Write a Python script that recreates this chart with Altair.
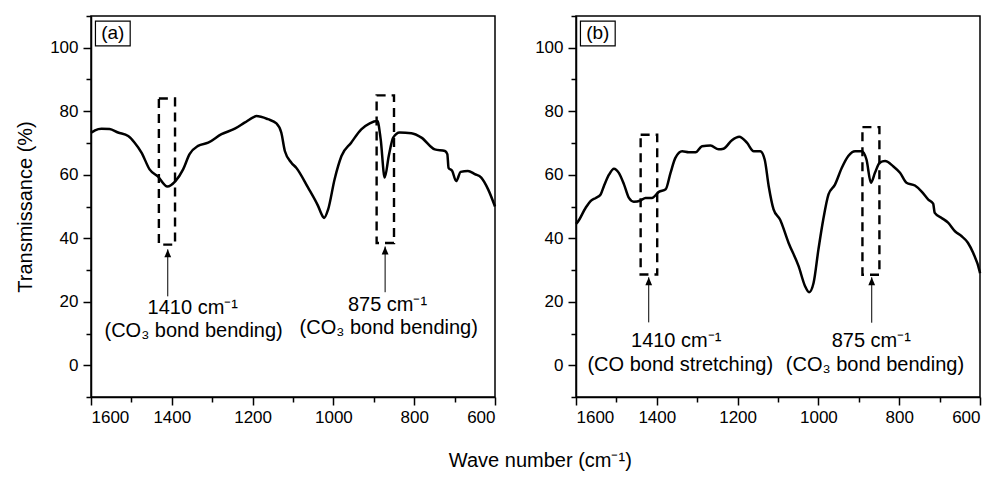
import altair as alt
import pandas as pd

FONT = "Liberation Sans"

# ---------------- data ----------------
a_wave = [1600, 1590, 1574, 1554, 1533, 1508, 1492, 1475, 1455, 1434, 1411, 1391, 1372, 1356,
          1335, 1310, 1277, 1244, 1220, 1195, 1191, 1162, 1141, 1129, 1120, 1104, 1092, 1063,
          1038, 1026, 1023, 1013, 997, 980, 956, 931, 910, 891, 883, 873, 863, 852, 836, 807,
          782, 749, 724, 718, 715, 706, 696, 685, 667, 650, 634, 617, 600]
a_trans = [73.2, 74.0, 74.5, 74.4, 73.3, 72.2, 70.1, 67.0, 61.7, 59.4, 56.3, 58.0, 61.7, 66.5,
           69.1, 70.1, 72.8, 74.5, 76.4, 78.3, 78.5, 77.5, 76.2, 73.3, 67.4, 63.8, 62.2, 56.0,
           50.2, 46.8, 46.4, 49.1, 58.6, 65.9, 70.1, 74.3, 76.2, 76.9, 71.2, 59.1, 65.9, 71.7, 73.3, 73.1,
           71.7, 68.0, 67.5, 66.5, 62.2, 61.2, 58.0, 60.9, 61.2, 60.2, 59.1, 55.4, 50.0]

b_wave = [1600, 1597, 1576, 1564, 1551, 1539, 1531, 1518, 1506, 1494, 1481, 1469, 1457, 1440,
          1428, 1412, 1395, 1378, 1366, 1354, 1337, 1321, 1304, 1288, 1267, 1247, 1235, 1214,
          1196, 1177, 1160, 1144, 1133, 1123, 1111, 1095, 1074, 1049, 1033, 1023, 1012, 1000,
          988, 975, 959, 942, 926, 909, 893, 881, 870, 860, 848, 835, 815, 798, 782, 761, 745,
          728, 716, 712, 695, 679, 662, 646, 630, 617, 601, 600]
b_trans = [44.5, 44.9, 49.6, 51.7, 52.7, 53.8, 56.4, 60.1, 61.9, 60.6, 56.9, 52.7, 51.5, 51.9,
           52.7, 52.7, 54.6, 55.4, 60.6, 65.3, 67.4, 67.1, 67.1, 69.0, 69.2, 68.0, 68.2, 70.9,
           72.0, 70.1, 67.4, 67.4, 64.8, 56.4, 49.1, 45.9, 38.6, 31.2, 24.9, 23.0, 25.9, 36.4,
           45.9, 53.8, 56.9, 62.2, 65.9, 67.4, 67.4, 64.8, 57.5, 60.6, 63.8, 64.3, 62.7, 60.6,
           57.5, 56.6, 54.8, 52.2, 50.9, 48.0, 46.4, 44.9, 42.2, 40.7, 38.6, 35.4, 29.6, 29.0]

# dashed boxes
a_box_x1 = [1432, 893]
a_box_x2 = [1392, 850]
a_box_y1 = [38.0, 38.5]
a_box_y2 = [84.0, 85.0]
b_box_x1 = [1440, 891]
b_box_x2 = [1399, 849]
b_box_y1 = [28.6, 28.5]
b_box_y2 = [72.6, 75.0]

# arrows
a_arrow_x = [1410, 872]
a_arrow_base = [21.7, 23.0]
a_arrow_tip = [36.5, 37.4]
b_arrow_x = [1420, 868]
b_arrow_base = [13.5, 13.4]
b_arrow_tip = [27.7, 27.7]

# annotation texts
a_line1 = ["1410 cm⁻¹", "875 cm⁻¹"]
a_line1_x = [1348, 866]
a_line1_y = [16.0, 17.0]
a_line2 = ["(CO₃ bond bending)", "(CO₃ bond bending)"]
a_line2_x = [1346, 863]
a_line2_y = [8.8, 9.7]
b_line1 = ["1410 cm⁻¹", "875 cm⁻¹"]
b_line1_x = [1352, 869]
b_line1_y = [5.6, 5.6]
b_line2 = ["(CO bond stretching)", "(CO₃ bond bending)"]
b_line2_x = [1342, 860]
b_line2_y = [-1.9, -1.9]

# panel labels
panel_labels = ["(a)", "(b)"]
label_box_x = [1589, 1503]
label_box_y = [100.6, 108.4]

x_major = [1600, 1400, 1200, 1000, 800, 600]
x_minor = [1500, 1300, 1100, 900, 700]
y_major = [0, 20, 40, 60, 80, 100]
y_minor = [-10, 10, 30, 50, 70, 90, 110]

X_SCALE = alt.Scale(domain=[1600, 600], nice=False, zero=False)
Y_SCALE = alt.Scale(domain=[-10, 110], nice=False, zero=False)


def panel(wave, trans, bx1, bx2, by1, by2, ax, abase, atip,
          l1, l1x, l1y, l2, l2x, l2y, label, ytitle):
    x_axis = alt.Axis(values=x_major, title=None, format="d", orient="bottom",
                      tickSize=8, labelPadding=4, labelOverlap=False)
    if ytitle is None:
        y_axis = alt.Axis(values=y_major, title=None, format="d", orient="left",
                          tickSize=8, labelPadding=5, labelOverlap=False)
    else:
        y_axis = alt.Axis(values=y_major, title=ytitle, format="d", orient="left",
                          tickSize=8, labelPadding=5, labelOverlap=False, titlePadding=14)
    x_minor_axis = alt.Axis(values=x_minor, title=None, labels=False, domain=False,
                            orient="bottom", tickSize=5)
    y_minor_axis = alt.Axis(values=y_minor, title=None, labels=False, domain=False,
                            orient="left", tickSize=5)

    df = pd.DataFrame({"w": wave, "t": trans})
    line = alt.Chart(df).mark_line(color="black", strokeWidth=2.5, interpolate="monotone").encode(
        x=alt.X("w:Q", scale=X_SCALE, axis=x_axis),
        y=alt.Y("t:Q", scale=Y_SCALE, axis=y_axis),
        order=alt.Order("w:Q", sort="descending"),
    )

    boxes = alt.Chart(pd.DataFrame({"x1": bx1, "x2": bx2, "y1": by1, "y2": by2})).mark_rect(
        filled=False, stroke="black", strokeWidth=2.4, strokeDash=[9, 6], fillOpacity=0
    ).encode(x=alt.X("x1:Q", scale=X_SCALE, axis=x_minor_axis), x2="x2:Q",
             y=alt.Y("y1:Q", scale=Y_SCALE, axis=y_minor_axis), y2="y2:Q")

    arr_df = pd.DataFrame({"x": ax, "b": abase, "t": atip})
    shafts = alt.Chart(arr_df).mark_rule(color="black", strokeWidth=1).encode(
        x=alt.X("x:Q", scale=X_SCALE, axis=None), y=alt.Y("b:Q", scale=Y_SCALE, axis=None), y2="t:Q")
    heads = alt.Chart(arr_df).mark_point(
        shape="M0,0 L-0.85,2 L0.85,2 Z", filled=True, color="black", opacity=1, size=64
    ).encode(x=alt.X("x:Q", scale=X_SCALE, axis=None), y=alt.Y("t:Q", scale=Y_SCALE, axis=None))

    t1 = alt.Chart(pd.DataFrame({"s": l1, "x": l1x, "y": l1y})).mark_text(
        font=FONT, fontSize=20, color="black", align="center", baseline="alphabetic"
    ).encode(x=alt.X("x:Q", scale=X_SCALE, axis=None), y=alt.Y("y:Q", scale=Y_SCALE, axis=None), text="s:N")
    t2 = alt.Chart(pd.DataFrame({"s": l2, "x": l2x, "y": l2y})).mark_text(
        font=FONT, fontSize=20, color="black", align="center", baseline="alphabetic"
    ).encode(x=alt.X("x:Q", scale=X_SCALE, axis=None), y=alt.Y("y:Q", scale=Y_SCALE, axis=None), text="s:N")

    lab_df = pd.DataFrame({"x1": [label_box_x[0]], "x2": [label_box_x[1]],
                           "y1": [label_box_y[0]], "y2": [label_box_y[1]],
                           "xm": [(label_box_x[0] + label_box_x[1]) / 2],
                           "ym": [(label_box_y[0] + label_box_y[1]) / 2],
                           "s": [label]})
    lab_box = alt.Chart(lab_df).mark_rect(filled=False, stroke="black", strokeWidth=1.2,
                                          fillOpacity=0).encode(
        x=alt.X("x1:Q", scale=X_SCALE, axis=None), x2="x2:Q",
        y=alt.Y("y1:Q", scale=Y_SCALE, axis=None), y2="y2:Q")
    lab_txt = alt.Chart(lab_df).mark_text(font=FONT, fontSize=19, color="black",
                                          align="center", baseline="middle").encode(
        x=alt.X("xm:Q", scale=X_SCALE, axis=None), y=alt.Y("ym:Q", scale=Y_SCALE, axis=None), text="s:N")

    return alt.layer(line, boxes, shafts, heads, t1, t2, lab_box, lab_txt).resolve_axis(
        x="independent", y="independent").properties(width=404, height=381)


pa = panel(a_wave, a_trans, a_box_x1, a_box_x2, a_box_y1, a_box_y2,
           a_arrow_x, a_arrow_base, a_arrow_tip,
           a_line1, a_line1_x, a_line1_y, a_line2, a_line2_x, a_line2_y,
           panel_labels[0], "Transmissance (%)")
pb = panel(b_wave, b_trans, b_box_x1, b_box_x2, b_box_y1, b_box_y2,
           b_arrow_x, b_arrow_base, b_arrow_tip,
           b_line1, b_line1_x, b_line1_y, b_line2, b_line2_x, b_line2_y,
           panel_labels[1], None)

chart = alt.hconcat(pa, pb, spacing=81, bounds="flush").properties(
    title=alt.TitleParams("Wave number (cm⁻¹)", orient="bottom", anchor="middle",
                          font=FONT, fontSize=20, fontWeight="normal", color="black",
                          offset=25, dx=40),
    padding={"left": 6, "top": 6, "right": 5, "bottom": 5},
).configure_axis(
    labelFont=FONT, labelFontSize=17, labelColor="black",
    titleFont=FONT, titleFontSize=20, titleFontWeight="normal", titleColor="black",
    domainColor="black", domainWidth=1.5, tickColor="black", tickWidth=1.5, grid=False,
).configure_view(stroke="black", strokeWidth=1.5)

chart.save("out.html", embed_options={"renderer": "svg", "actions": False})
